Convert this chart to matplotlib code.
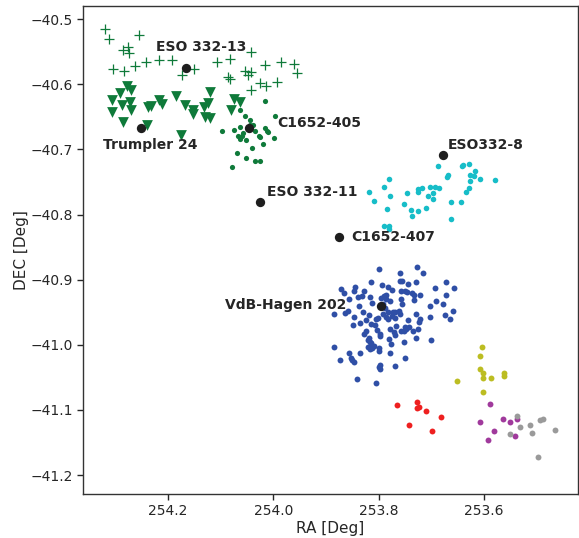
import numpy as np
from matplotlib import pyplot as plt

# group members (RA, DEC in degrees)
plus_ra = [254.319, 254.312, 254.256, 254.286, 254.276, 254.275, 254.305, 254.284,
           254.263, 254.243, 254.218, 254.192, 254.173, 254.151, 254.107, 254.082,
           254.043, 254.086, 254.083, 254.054, 254.049, 254.043, 254.016, 253.985,
           253.961, 253.955, 254.042, 254.025, 254.015, 253.993]
plus_dec = [-40.515, -40.531, -40.524, -40.547, -40.542, -40.552, -40.576, -40.580,
            -40.572, -40.566, -40.562, -40.563, -40.585, -40.577, -40.565, -40.561,
            -40.550, -40.589, -40.591, -40.579, -40.586, -40.581, -40.571, -40.566,
            -40.568, -40.583, -40.609, -40.598, -40.603, -40.596]

tri_ra = [254.279, 254.271, 254.291, 254.306, 254.288, 254.273, 254.306, 254.271,
          254.286, 254.239, 254.233, 254.218, 254.211, 254.186, 254.168, 254.152,
          254.153, 254.132, 254.125, 254.121, 254.130, 254.120, 254.081, 254.075,
          254.064, 254.240, 254.175]
tri_dec = [-40.602, -40.608, -40.613, -40.624, -40.631, -40.627, -40.642, -40.639,
           -40.658, -40.634, -40.633, -40.624, -40.630, -40.618, -40.631, -40.640,
           -40.645, -40.634, -40.629, -40.612, -40.650, -40.652, -40.639, -40.622,
           -40.627, -40.663, -40.678]

green_ra = [254.016, 253.997, 254.064, 254.054, 254.097, 254.075, 254.063, 254.045,
            254.039, 254.036, 254.058, 254.067, 254.059, 254.053, 254.064, 254.027,
            254.026, 254.016, 254.010, 254.012, 253.999, 254.020, 254.040, 254.070,
            254.052, 254.035, 254.026, 254.078, 254.044]
green_dec = [-40.626, -40.649, -40.640, -40.648, -40.672, -40.670, -40.666, -40.655,
             -40.663, -40.671, -40.674, -40.679, -40.680, -40.685, -40.684, -40.679,
             -40.681, -40.667, -40.673, -40.671, -40.683, -40.691, -40.698, -40.706,
             -40.713, -40.718, -40.718, -40.727, -40.662]

cyan_ra = [253.688, 253.669, 253.671, 253.642, 253.641, 253.628, 253.617, 253.626,
           253.620, 253.608, 253.579, 253.627, 253.628, 253.634, 253.643, 253.662,
           253.663, 253.781, 253.790, 253.818, 253.779, 253.809, 253.785, 253.791,
           253.780, 253.780, 253.747, 253.753, 253.738, 253.736, 253.725, 253.711,
           253.725, 253.725, 253.717, 253.703, 253.693, 253.686, 253.697, 253.707,
           253.697]
cyan_dec = [-40.726, -40.739, -40.743, -40.726, -40.724, -40.722, -40.733, -40.739,
            -40.741, -40.745, -40.747, -40.749, -40.759, -40.766, -40.780, -40.780,
            -40.807, -40.745, -40.758, -40.766, -40.771, -40.779, -40.792, -40.818,
            -40.818, -40.822, -40.767, -40.783, -40.793, -40.802, -40.795, -40.790,
            -40.760, -40.766, -40.759, -40.757, -40.757, -40.759, -40.767, -40.771,
            -40.776]

blue_ra = [253.800, 253.728, 253.716, 253.760, 253.759, 253.756, 253.744, 253.729,
           253.814, 253.793, 253.782, 253.774, 253.757, 253.751, 253.747, 253.737,
           253.734, 253.722, 253.694, 253.673, 253.658, 253.673, 253.871, 253.866,
           253.845, 253.848, 253.829, 253.839, 253.832, 253.817, 253.856, 253.795,
           253.790, 253.787, 253.758, 253.734, 253.756, 253.812, 253.838, 253.691,
           253.678, 253.703, 253.660, 253.674, 253.664, 253.885, 253.864, 253.858,
           253.848, 253.830, 253.819, 253.825, 253.836, 253.849, 253.805, 253.802,
           253.792, 253.786, 253.783, 253.775, 253.773, 253.769, 253.783, 253.769,
           253.762, 253.760, 253.789, 253.792, 253.787, 253.779, 253.729, 253.722,
           253.724, 253.703, 253.745, 253.768, 253.814, 253.807, 253.804, 253.825,
           253.828, 253.797, 253.798, 253.779, 253.771, 253.770, 253.757, 253.751,
           253.749, 253.752, 253.743, 253.735, 253.726, 253.730, 253.700, 253.752,
           253.780, 253.777, 253.818, 253.820, 253.816, 253.815, 253.812, 253.817,
           253.821, 253.809, 253.799, 253.799, 253.885, 253.856, 253.836, 253.853,
           253.850, 253.847, 253.873, 253.778, 253.750, 253.769, 253.797, 253.800,
           253.798, 253.842, 253.806]
blue_dec = [-40.883, -40.881, -40.889, -40.889, -40.902, -40.902, -40.907, -40.903,
            -40.903, -40.908, -40.911, -40.916, -40.918, -40.917, -40.919, -40.921,
            -40.924, -40.923, -40.913, -40.904, -40.913, -40.924, -40.915, -40.920,
            -40.911, -40.918, -40.917, -40.926, -40.925, -40.926, -40.930, -40.928,
            -40.925, -40.924, -40.929, -40.931, -40.937, -40.936, -40.940, -40.933,
            -40.937, -40.941, -40.948, -40.954, -40.960, -40.952, -40.951, -40.948,
            -40.957, -40.950, -40.955, -40.962, -40.966, -40.970, -40.961, -40.959,
            -40.952, -40.958, -40.961, -40.956, -40.950, -40.959, -40.949, -40.950,
            -40.948, -40.952, -40.944, -40.938, -40.930, -40.932, -40.952, -40.961,
            -40.965, -40.958, -40.962, -40.971, -40.968, -40.969, -40.977, -40.979,
            -40.984, -40.984, -40.987, -40.976, -40.980, -40.985, -40.979, -40.972,
            -40.975, -40.979, -40.973, -40.979, -40.976, -40.989, -40.993, -40.996,
            -40.991, -40.999, -40.990, -40.992, -40.995, -40.997, -41.005, -41.007,
            -41.003, -41.002, -41.005, -41.009, -41.003, -41.012, -41.013, -41.020,
            -41.023, -41.026, -41.024, -41.013, -41.020, -41.033, -41.031, -41.034,
            -41.037, -41.052, -41.058]

yellow_ra = [253.604, 253.607, 253.608, 253.602, 253.602, 253.587, 253.562, 253.563,
             253.651, 253.602]
yellow_dec = [-41.004, -41.017, -41.037, -41.044, -41.051, -41.051, -41.043, -41.048,
              -41.056, -41.073]

red_ra = [253.766, 253.728, 253.728, 253.724, 253.710, 253.681, 253.743, 253.699]
red_dec = [-41.093, -41.088, -41.097, -41.096, -41.102, -41.111, -41.123, -41.132]

mag_ra = [253.588, 253.608, 253.564, 253.551, 253.538, 253.582, 253.593, 253.541]
mag_dec = [-41.091, -41.118, -41.114, -41.118, -41.114, -41.132, -41.146, -41.140]

gray_ra = [253.538, 253.513, 253.494, 253.489, 253.532, 253.551, 253.509, 253.466,
           253.498]
gray_dec = [-41.110, -41.123, -41.115, -41.114, -41.127, -41.137, -41.136, -41.131,
            -41.173]

# known clusters: name, RA, DEC, label RA, label DEC, alignment
cl_names = ["ESO 332-13", "Trumpler 24", "C1652-405", "ESO 332-11",
            "ESO332-8", "C1652-407", "VdB-Hagen 202"]
cl_ra = [254.166, 254.251, 254.046, 254.025, 253.679, 253.875, 253.795]
cl_dec = [-40.575, -40.667, -40.667, -40.780, -40.709, -40.834, -40.941]
lab_ra = [254.224, 254.3235, 253.993, 254.013, 253.669, 253.853, 253.862]
lab_dec = [-40.542, -40.693, -40.659, -40.765, -40.693, -40.834, -40.939]
lab_ha = ["left", "left", "left", "left", "left", "left", "right"]

plt.rcParams['axes.edgecolor'] = '#333333'
plt.rcParams['axes.linewidth'] = 1.0
plt.rcParams['xtick.color'] = '#262626'
plt.rcParams['ytick.color'] = '#262626'
plt.rcParams['text.color'] = '#262626'
plt.rcParams['axes.labelcolor'] = '#262626'

fig = plt.figure(figsize=(5.79, 5.38), dpi=100)
ax = fig.add_axes([0.144, 0.082, 0.854, 0.907])

green = '#0f7a3a'
ax.scatter(plus_ra, plus_dec, marker='+', s=42, color=green, linewidths=0.9)
ax.scatter(tri_ra, tri_dec, marker='v', s=60, color=green, linewidths=0)
ax.scatter(green_ra, green_dec, s=14, color=green, linewidths=0)
ax.scatter(cyan_ra, cyan_dec, s=16, color='#17bdc8', linewidths=0)
ax.scatter(blue_ra, blue_dec, s=18, color='#2f4fa6', linewidths=0)
ax.scatter(yellow_ra, yellow_dec, s=18, color='#bcbd22', linewidths=0)
ax.scatter(red_ra, red_dec, s=18, color='#ee2020', linewidths=0)
ax.scatter(mag_ra, mag_dec, s=18, color='#a03a9c', linewidths=0)
ax.scatter(gray_ra, gray_dec, s=18, color='#9a9a9a', linewidths=0)

ax.scatter(cl_ra, cl_dec, s=45, color='#1e1e1e', linewidths=0, zorder=5)
for name, x, y, ha in zip(cl_names, lab_ra, lab_dec, lab_ha):
    ax.text(x, y, name, ha=ha, va='center', fontsize=10, fontweight='bold',
            color='#262626', zorder=6)

ax.set_xlim(254.361, 253.422)
ax.set_ylim(-41.229, -40.4795)
ax.set_xticks([254.2, 254.0, 253.8, 253.6])
ax.set_xticklabels(["254.2", "254.0", "253.8", "253.6"])
ax.set_yticks([-40.5, -40.6, -40.7, -40.8, -40.9, -41.0, -41.1, -41.2])
ax.tick_params(labelsize=10, length=4, width=1.0)
ax.set_xlabel('RA [Deg]', fontsize=11, labelpad=2)
ax.set_ylabel('DEC [Deg]', fontsize=11, labelpad=1)

fig.savefig('out.png', dpi=100)
